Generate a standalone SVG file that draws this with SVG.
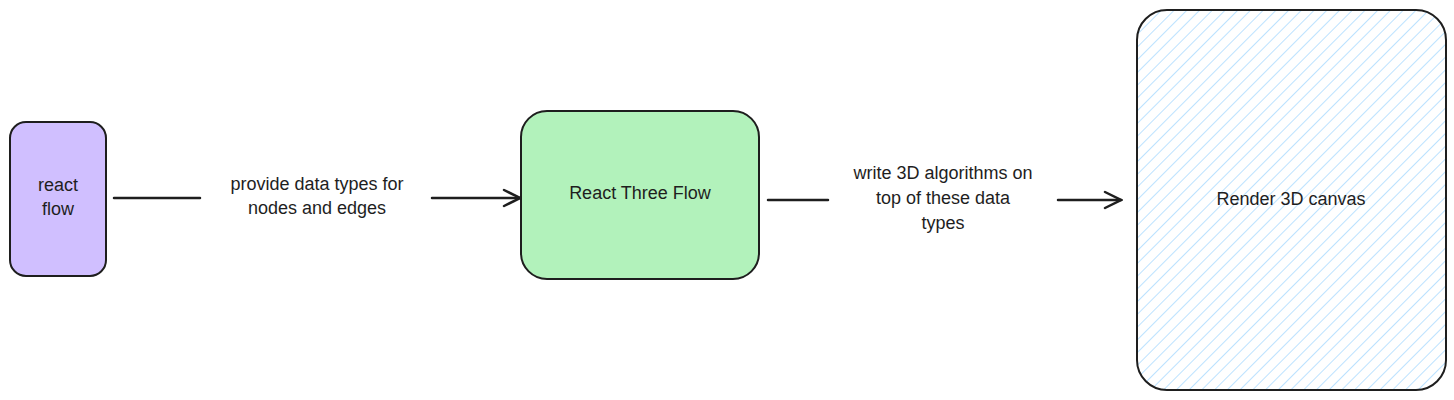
<svg xmlns="http://www.w3.org/2000/svg" width="1454" height="400" viewBox="0 0 1454 400">
<style>
.n{stroke:#1e1e1e;stroke-width:2}
.t{font-family:"Liberation Sans",Arial,sans-serif;font-size:18px;fill:#1e1e1e;text-anchor:middle}
.c{stroke:#1e1e1e;stroke-width:2.5;fill:none;stroke-linecap:round}
</style>
<defs>
<pattern id="h" patternUnits="userSpaceOnUse" width="9" height="9" patternTransform="rotate(45)">
<line x1="0" y1="0" x2="0" y2="9" stroke="#a5d8ff" stroke-width="1.5"/>
</pattern>
<marker id="a" markerWidth="20" markerHeight="20" refX="18" refY="10" orient="auto" markerUnits="userSpaceOnUse">
<path d="M2 2 L18 10 L2 18" fill="none" stroke="#1e1e1e" stroke-width="2.5" stroke-linecap="round"/>
</marker>
</defs>
<rect width="1454" height="400" fill="#fff"/>
<g id="react-flow"><rect class="n" x="10" y="122" width="96" height="154" rx="16" fill="#d0bfff"/>
<text class="t" x="58" y="191">react</text><text class="t" x="58" y="215">flow</text></g>
<g id="react-three-flow"><rect class="n" x="521" y="111" width="238" height="168" rx="26" fill="#b2f2bb"/>
<text class="t" x="640" y="199">React Three Flow</text></g>
<g id="render"><rect class="n" x="1137" y="10" width="309" height="380" rx="30" fill="url(#h)"/>
<text class="t" x="1291" y="205">Render 3D canvas</text></g>
<g id="connectors">
<path class="c" d="M114 198 H200 M432 198 H520" marker-end="url(#a)"/>
<text class="t" x="317" y="190">provide data types for</text>
<text class="t" x="317" y="214">nodes and edges</text>
<path class="c" d="M768 200 H828 M1058 200 H1121" marker-end="url(#a)"/>
<text class="t" x="943" y="179">write 3D algorithms on</text>
<text class="t" x="943" y="204">top of these data</text>
<text class="t" x="943" y="229">types</text>
</g>
</svg>
